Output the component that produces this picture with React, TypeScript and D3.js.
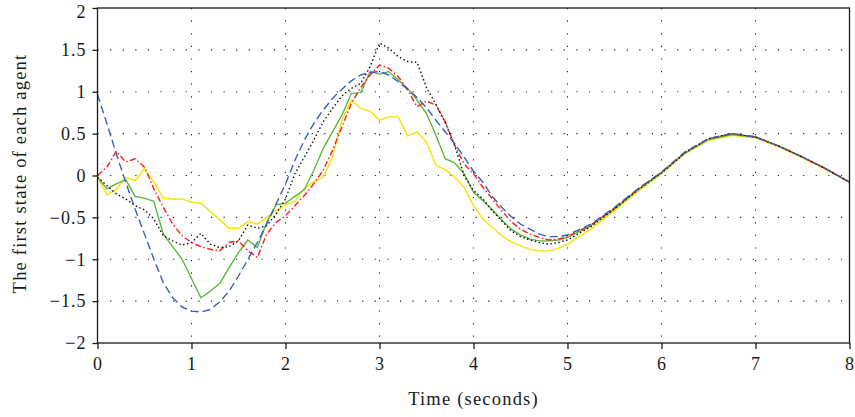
import React, { useEffect, useRef } from 'react';
import * as d3 from 'd3';

// sample times (0.1 s steps up to 5 s, then 0.25 s)
const time = [
  0, 0.1, 0.2, 0.3, 0.4, 0.5, 0.6, 0.7, 0.8, 0.9,
  1.0, 1.1, 1.2, 1.3, 1.4, 1.5, 1.6, 1.7, 1.8, 1.9,
  2.0, 2.1, 2.2, 2.3, 2.4, 2.5, 2.6, 2.7, 2.8, 2.9,
  3.0, 3.1, 3.2, 3.3, 3.4, 3.5, 3.6, 3.7, 3.8, 3.9,
  4.0, 4.1, 4.2, 4.3, 4.4, 4.5, 4.6, 4.7, 4.8, 4.9,
  5.0, 5.25, 5.5, 5.75, 6.0, 6.25, 6.5, 6.75, 7.0, 7.25, 7.5, 7.75, 8.0,
];

const agentBlue = [
  0.97, 0.62, 0.26, -0.08, -0.40, -0.70, -1.0, -1.28, -1.46, -1.57,
  -1.62, -1.63, -1.60, -1.51, -1.38, -1.20, -1.0, -0.80, -0.58, -0.34,
  -0.10, 0.18, 0.42, 0.62, 0.78, 0.92, 1.03, 1.13, 1.20, 1.23,
  1.24, 1.20, 1.12, 1.03, 0.93, 0.81, 0.66, 0.52, 0.38, 0.22,
  0.05, -0.08, -0.25, -0.38, -0.49, -0.58, -0.64, -0.70, -0.73, -0.73,
  -0.71, -0.58, -0.38, -0.16, 0.04, 0.28, 0.44, 0.50, 0.46, 0.35, 0.22, 0.08, -0.08,
];

const agentBlack = [
  -0.02, -0.12, -0.22, -0.28, -0.36, -0.41, -0.52, -0.72, -0.78, -0.83,
  -0.80, -0.69, -0.82, -0.86, -0.85, -0.78, -0.59, -0.63, -0.60, -0.46,
  -0.28, 0.02, 0.22, 0.42, 0.64, 0.80, 0.95, 1.04, 1.10, 1.30,
  1.58, 1.52, 1.42, 1.36, 1.35, 1.05, 0.85, 0.63, 0.36, 0.0,
  -0.18, -0.28, -0.42, -0.54, -0.66, -0.73, -0.77, -0.80, -0.82, -0.80,
  -0.77, -0.61, -0.40, -0.17, 0.03, 0.27, 0.44, 0.50, 0.46, 0.35, 0.22, 0.08, -0.08,
];

const agentRed = [
  0.0, 0.10, 0.29, 0.16, 0.20, 0.10, -0.16, -0.38, -0.58, -0.72,
  -0.80, -0.85, -0.88, -0.90, -0.80, -0.78, -0.90, -0.98, -0.70, -0.56,
  -0.48, -0.36, -0.24, -0.10, 0.06, 0.30, 0.58, 0.86, 1.05, 1.20,
  1.32, 1.28, 1.18, 1.02, 0.82, 0.89, 0.84, 0.64, 0.36, 0.14,
  0.02, -0.14, -0.28, -0.42, -0.55, -0.64, -0.70, -0.74, -0.77, -0.76,
  -0.73, -0.59, -0.39, -0.16, 0.04, 0.28, 0.44, 0.50, 0.46, 0.35, 0.22, 0.08, -0.08,
];

const agentGreen = [
  -0.02, -0.16, -0.10, -0.05, -0.25, -0.27, -0.31, -0.70, -0.85, -1.0,
  -1.23, -1.46, -1.38, -1.29, -1.10, -0.92, -0.77, -0.86, -0.56, -0.35,
  -0.33, -0.25, -0.17, 0.06, 0.32, 0.52, 0.72, 0.98, 0.99, 1.24,
  1.21, 1.24, 1.14, 1.04, 0.90, 0.74, 0.48, 0.20, 0.15, 0.02,
  -0.20, -0.30, -0.41, -0.53, -0.64, -0.71, -0.76, -0.78, -0.78, -0.77,
  -0.74, -0.60, -0.40, -0.17, 0.03, 0.27, 0.43, 0.49, 0.46, 0.35, 0.22, 0.08, -0.08,
];

const agentYellow = [
  -0.02, -0.23, -0.17, -0.02, -0.06, 0.08, -0.08, -0.27, -0.28, -0.28,
  -0.32, -0.33, -0.43, -0.53, -0.63, -0.63, -0.55, -0.58, -0.50, -0.42,
  -0.35, -0.31, -0.15, -0.08, -0.02, 0.22, 0.66, 0.90, 0.80, 0.77,
  0.66, 0.70, 0.70, 0.47, 0.52, 0.40, 0.12, 0.07, -0.02, -0.14,
  -0.36, -0.52, -0.62, -0.72, -0.79, -0.84, -0.88, -0.90, -0.90, -0.87,
  -0.82, -0.64, -0.42, -0.19, 0.02, 0.26, 0.42, 0.48, 0.45, 0.34, 0.21, 0.07, -0.08,
];

const xTicks = [0, 1, 2, 3, 4, 5, 6, 7, 8];
const yTicks = [-2, -1.5, -1, -0.5, 0, 0.5, 1, 1.5, 2];

const series = [
  { name: 'yellow', values: agentYellow, color: '#f5e400', dash: null },
  { name: 'green', values: agentGreen, color: '#5cb83c', dash: null },
  { name: 'red', values: agentRed, color: '#ff1a1a', dash: '6,2.5,1.5,2.5' },
  { name: 'black', values: agentBlack, color: '#111111', dash: '1.5,2.5' },
  { name: 'blue', values: agentBlue, color: '#3d5db8', dash: '8,4' },
];

const W = 855;
const H = 417;
const FONT = '"Liberation Serif", "DejaVu Serif", serif';

export default function App() {
  const ref = useRef<SVGSVGElement>(null);

  useEffect(() => {
    const margin = { top: 8, right: 5.5, bottom: 74, left: 97.5 };
    const width = W - margin.left - margin.right;
    const height = H - margin.top - margin.bottom;

    const root = d3.select(ref.current);
    root.selectAll('*').remove();
    const svg = root.append('g')
      .attr('transform', 'translate(' + margin.left + ',' + margin.top + ')');

    const x = d3.scaleLinear().domain([0, 8]).range([0, width]);
    const y = d3.scaleLinear().domain([-2, 2]).range([height, 0]);

    // dotted grid
    const grid = svg.append('g');
    grid.selectAll('.gx')
      .data(xTicks.slice(1, -1))
      .enter()
      .append('line')
      .attr('x1', d => x(d)).attr('x2', d => x(d))
      .attr('y1', 0).attr('y2', height)
      .attr('stroke', '#222').attr('stroke-width', 1.1)
      .attr('stroke-dasharray', '1.2,11.4');
    grid.selectAll('.gy')
      .data(yTicks.slice(1, -1))
      .enter()
      .append('line')
      .attr('x1', 0).attr('x2', width)
      .attr('y1', d => y(d)).attr('y2', d => y(d))
      .attr('stroke', '#222').attr('stroke-width', 1.1)
      .attr('stroke-dasharray', '1.2,11.4');

    // lines
    const line = d3.line<number>()
      .x((d, i) => x(time[i]))
      .y(d => y(d));

    series.forEach(s => {
      svg.append('path')
        .datum(s.values)
        .attr('d', line)
        .attr('fill', 'none')
        .attr('stroke', s.color)
        .attr('stroke-width', 1.4)
        .attr('stroke-dasharray', s.dash)
        .attr('stroke-linejoin', 'round');
    });

    // frame
    svg.append('rect')
      .attr('x', 0).attr('y', 0)
      .attr('width', width).attr('height', height)
      .attr('fill', 'none')
      .attr('stroke', '#1a1a1a')
      .attr('stroke-width', 1.3);

    const xAxis = svg.append('g')
      .attr('transform', 'translate(0,' + height + ')')
      .call(d3.axisBottom(x).tickValues(xTicks).tickSize(6).tickPadding(8).tickFormat(d3.format('d')));
    const yAxis = svg.append('g')
      .call(d3.axisLeft(y).tickValues(yTicks).tickSize(5).tickPadding(6)
        .tickFormat(d => String(d).replace('-', '\u2212')));

    [xAxis, yAxis].forEach(a => {
      a.select('.domain').remove();
      a.selectAll('line').attr('stroke', '#1a1a1a').attr('stroke-width', 1.3);
      a.selectAll('text')
        .attr('fill', '#1a1a1a')
        .style('font-family', FONT)
        .style('font-size', '18px')
        .style('letter-spacing', '1px');
    });
    // keep the top label inside the picture
    yAxis.selectAll('text').filter(d => d === 2).attr('dy', '0.5em');

    svg.append('text')
      .attr('x', width / 2)
      .attr('y', height + 62)
      .attr('text-anchor', 'middle')
      .style('font-family', FONT)
      .style('font-size', '18.5px')
      .style('letter-spacing', '1.2px')
      .attr('fill', '#1a1a1a')
      .text('Time (seconds)');

    svg.append('text')
      .attr('transform', 'translate(' + (-72) + ',' + (height / 2 - 2) + ') rotate(-90)')
      .attr('text-anchor', 'middle')
      .style('font-family', FONT)
      .style('font-size', '18.5px')
      .style('letter-spacing', '1.2px')
      .attr('fill', '#1a1a1a')
      .text('The first state of each agent');
  }, []);

  return (
    <svg ref={ref} width={W} height={H}
      style={{ position: 'absolute', left: 0, top: 0, background: '#fff' }} />
  );
}
